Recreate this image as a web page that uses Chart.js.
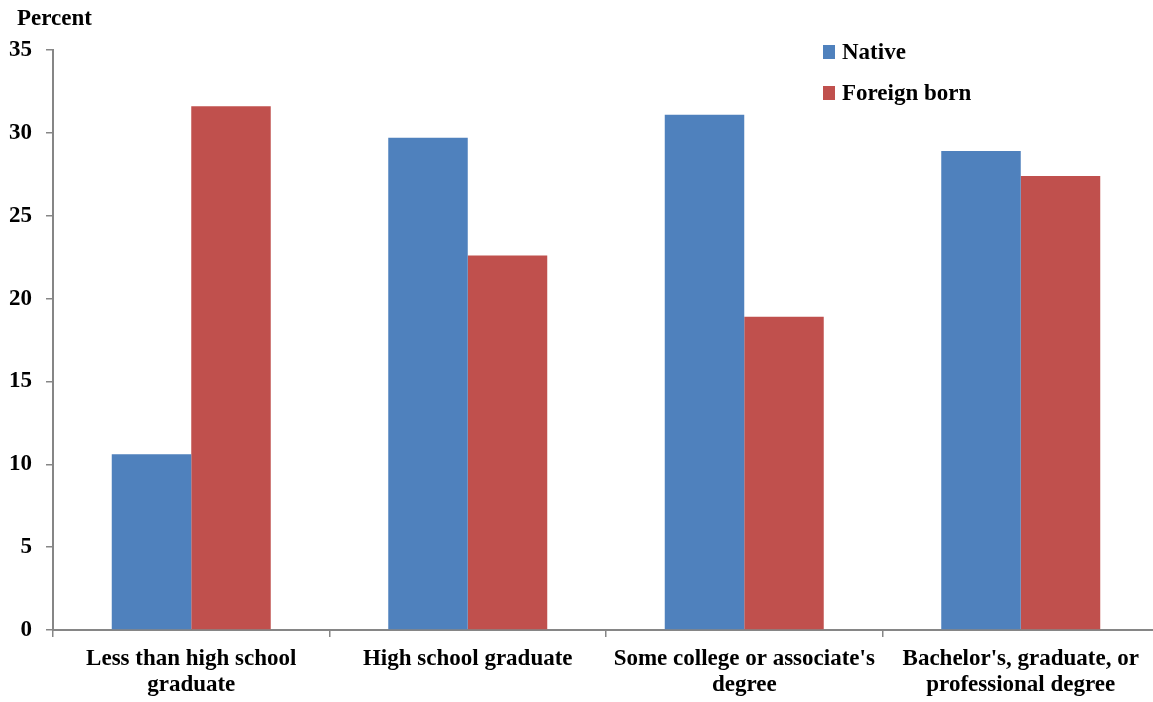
<!DOCTYPE html>
<html>
<head>
<meta charset="utf-8">
<script src="https://cdn.jsdelivr.net/npm/chart.js@4.4.1/dist/chart.umd.min.js"></script>
<style>
  html, body { margin: 0; padding: 0; background: #fff; overflow: hidden; }
  #wrap { width: 1153px; height: 702px; overflow: hidden; }
  canvas { display: block; }
</style>
</head>
<body>
<div id="wrap"><canvas id="chart" width="1159" height="702"></canvas></div>
<script>
// Educational attainment shares, percent
const categories = [
  ["Less than high school", "graduate"],
  ["High school graduate"],
  ["Some college or associate's", "degree"],
  ["Bachelor's, graduate, or", "professional degree"]
];
const seriesNames = ["Native", "Foreign born"];
const nativeValues = [10.6, 29.7, 31.1, 28.9];
const foreignBornValues = [31.6, 22.6, 18.9, 27.4];
const yTicks = [0, 5, 10, 15, 20, 25, 30, 35];

const BLUE = "#4F81BD";
const RED = "#C0504D";
const AXIS = "#868686";
const FONT = "'Liberation Serif', 'Times New Roman', serif";

// Vertical legend inside the plot area, plus the "Percent" unit label
const overlay = {
  id: "overlay",
  afterDraw(chart) {
    const ctx = chart.ctx;
    const area = chart.chartArea;
    ctx.save();
    ctx.font = "bold 23px " + FONT;
    ctx.fillStyle = "#000";
    ctx.textBaseline = "alphabetic";
    ctx.textAlign = "left";
    ctx.fillText("Percent", area.left - 36, 25);

    chart.data.datasets.forEach((ds, i) => {
      const y = 45 + i * 41;
      ctx.fillStyle = ds.backgroundColor;
      ctx.fillRect(823, y, 12, 14);
      ctx.fillStyle = "#000";
      ctx.fillText(ds.label, 842, y + 14);
    });
    ctx.restore();
  }
};

new Chart(document.getElementById("chart"), {
  type: "bar",
  data: {
    labels: categories,
    datasets: [
      { label: seriesNames[0], data: nativeValues, backgroundColor: BLUE },
      { label: seriesNames[1], data: foreignBornValues, backgroundColor: RED }
    ]
  },
  options: {
    responsive: false,
    animation: false,
    devicePixelRatio: 1,
    layout: { padding: { top: 50, right: 0, left: 0, bottom: 0 } },
    datasets: {
      bar: { categoryPercentage: 0.575, barPercentage: 1.0, borderWidth: 0 }
    },
    plugins: {
      legend: { display: false },
      tooltip: { enabled: false },
      title: { display: false }
    },
    scales: {
      x: {
        afterFit(scale) {
          scale.height = 72;
        },
        grid: {
          display: true,
          drawOnChartArea: false,
          drawTicks: true,
          tickLength: 7,
          color: AXIS,
          lineWidth: 1.5,
          offset: true
        },
        border: { display: true, color: AXIS, width: 2 },
        ticks: {
          color: "#000",
          font: { family: FONT, size: 23, weight: "bold", lineHeight: 1.12 },
          padding: 9,
          maxRotation: 0,
          autoSkip: false
        }
      },
      y: {
        min: 0,
        max: 35,
        afterBuildTicks(scale) {
          scale.ticks = yTicks.map(v => ({ value: v }));
        },
        afterFit(scale) {
          scale.width = 53;
        },
        grid: {
          display: true,
          drawOnChartArea: false,
          drawTicks: true,
          tickLength: 7,
          color: AXIS,
          lineWidth: 1.5
        },
        border: { display: true, color: AXIS, width: 2 },
        ticks: {
          color: "#000",
          font: { family: FONT, size: 23, weight: "bold" },
          padding: 14
        }
      }
    }
  },
  plugins: [overlay]
});
</script>
</body>
</html>
